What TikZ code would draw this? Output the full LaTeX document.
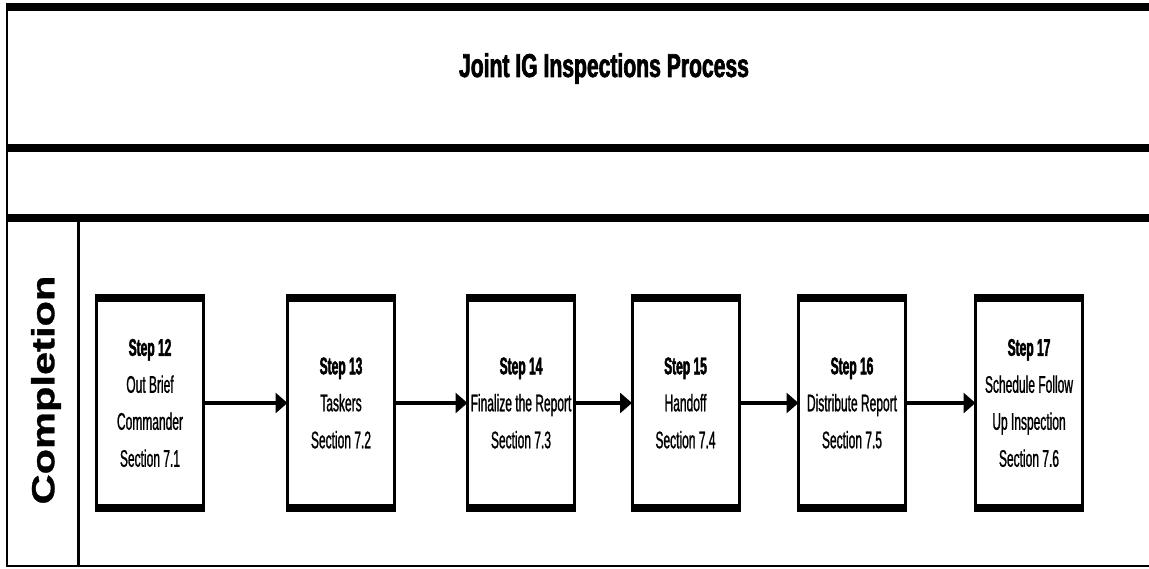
\documentclass[tikz,border=0pt]{standalone}
\usepackage{fontspec}
\setmainfont{Liberation Sans}
\newfontfamily\titlefont{Liberation Sans}[FakeStretch=0.64,FakeBold=2]
\newfontfamily\stepfont{Liberation Sans}[FakeStretch=0.5,FakeBold=1,BoldFeatures={FakeBold=2}]
\newfontfamily\lanefont{Liberation Sans}[FakeStretch=1.3,FakeBold=1]
\usetikzlibrary{positioning,arrows.meta}

\begin{document}
\begin{tikzpicture}[x=1pt,y=-1pt,
    stepbox/.style={draw,line width=3pt,rectangle,inner sep=0pt,outer sep=0pt,
      minimum width=107pt,minimum height=215pt,align=center,
      font=\stepfont\fontsize{24}{37}\selectfont},
    flow/.style={line width=4pt,-{Triangle[length=12pt,width=20pt]}}]
  \useasboundingbox (0,0) rectangle (1149,569);
  % pool frame and lanes
  \draw[line width=2.5pt] (7,3) -- (7,567);
  \draw[line width=8pt] (6,7) -- (1149,7);
  \draw[line width=8pt] (6,148) -- (1149,148);
  \draw[line width=8pt] (6,218) -- (1149,218);
  \draw[line width=2.5pt] (6,566) -- (1149,566);
  \draw[line width=3pt] (78.5,222) -- (78.5,566);
  \node[anchor=base,font=\titlefont\bfseries\fontsize{33}{33}\selectfont](title) at (604,77){Joint IG Inspections Process};
  \node[rotate=90,font=\lanefont\bfseries\fontsize{32}{32}\selectfont](lane) at (46,390){Completion};
  % steps
  \node[stepbox](s12) at (150,403){\textbf{Step 12}\\Out Brief\\Commander\\Section 7.1};
  \node[stepbox](s13) at (341,403){\textbf{Step 13}\\Taskers\\Section 7.2};
  \node[stepbox](s14) at (521,403){\textbf{Step 14}\\Finalize the Report\\Section 7.3};
  \node[stepbox](s15) at (685.5,403){\textbf{Step 15}\\Handoff\\Section 7.4};
  \node[stepbox](s16) at (852,403){\textbf{Step 16}\\Distribute Report\\Section 7.5};
  \node[stepbox](s17) at (1029,403){\textbf{Step 17}\\Schedule Follow\\Up Inspection\\Section 7.6};
  % thick top and bottom edges of the steps
  \foreach \n in {s12,s13,s14,s15,s16,s17}{
    \fill ([xshift=-1.5pt,yshift=1.5pt]\n.north west) rectangle ([xshift=1.5pt,yshift=-6.5pt]\n.north east);
    \fill ([xshift=-1.5pt,yshift=-1.5pt]\n.south west) rectangle ([xshift=1.5pt,yshift=6.5pt]\n.south east);
  }
  % connectors
  \draw[flow] (s12) -- (s13);
  \draw[flow] (s13) -- (s14);
  \draw[flow] (s14) -- (s15);
  \draw[flow] (s15) -- (s16);
  \draw[flow] (s16) -- (s17);
\end{tikzpicture}
\end{document}
